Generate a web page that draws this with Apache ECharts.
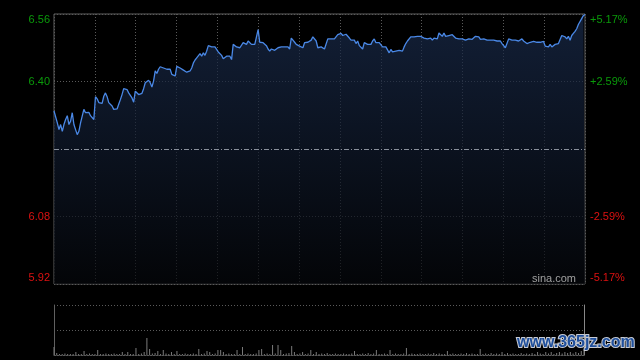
<!DOCTYPE html>
<html>
<head>
<meta charset="utf-8">
<script src="https://cdn.jsdelivr.net/npm/echarts@6/dist/echarts.min.js"></script>
<style>
html,body{margin:0;padding:0;background:#000;}
#c{width:640px;height:360px;}
</style>
</head>
<body>
<div id="c"></div>
<script>
// price samples across the session (evenly spaced in time)
var priceSeg1 = [6.330,6.326,6.302,6.286,6.298,6.282,6.298,6.310,6.319,6.298,
6.306,6.326,6.298,6.286,6.274,6.282,6.302,6.318,6.334,6.326,
6.322,6.327,6.319,6.322,6.310,6.364,6.359,6.350,6.353,6.348,
6.365,6.373,6.364,6.350,6.351,6.342,6.334,6.330,6.335,6.346,
6.357,6.369,6.383,6.383,6.381,6.373,6.375,6.361,6.351,6.377,
6.373,6.369,6.368,6.372,6.383,6.397,6.401,6.403,6.397,6.387,
6.401,6.425,6.419,6.429,6.435,6.438,6.432,6.430,6.429,6.425,
6.429,6.417,6.414,6.413,6.436,6.435,6.432,6.430,6.427,6.429,
6.422];
var priceSeg2 = [6.422,6.425,6.432,6.444,6.451,6.456,6.460,6.466,6.460,6.468,
6.462,6.472,6.485,6.487,6.482,6.482,6.482,6.482,6.470,6.466,
6.462,6.454,6.451,6.460,6.462,6.460,6.452,6.488,6.485,6.482,
6.480,6.480,6.482,6.492,6.490,6.488,6.496,6.492,6.488,6.492,
6.488,6.488,6.523,6.493,6.493,6.492,6.492,6.485,6.477,6.472,
6.477,6.477,6.474,6.477,6.480,6.482,6.482,6.482,6.482,6.482,
6.482,6.477,6.503,6.498,6.493,6.488,6.485,6.484,6.482,6.480,
6.492,6.492,6.493,6.496,6.498,6.506,6.507,6.496,6.480,6.480,
6.482];
var priceSeg3 = [6.480,6.477,6.480,6.501,6.501,6.501,6.501,6.501,6.503,6.511,
6.507,6.514,6.509,6.511,6.512,6.511,6.503,6.498,6.501,6.498,
6.490,6.496,6.485,6.485,6.477,6.492,6.490,6.488,6.490,6.488,
6.496,6.501,6.492,6.492,6.492,6.492,6.482,6.482,6.482,6.482,
6.468,6.476,6.470,6.472,6.472,6.472,6.474,6.477,6.472,6.482,
6.490,6.496,6.500,6.506,6.503,6.506,6.506,6.507,6.507,6.507,
6.503,6.503,6.501,6.501,6.500,6.503,6.498,6.503,6.501,6.501,
6.515,6.514,6.507,6.515,6.507,6.507,6.509,6.509,6.511,6.507,
6.503];
var priceSeg4 = [6.503,6.501,6.501,6.501,6.501,6.498,6.500,6.501,6.503,6.500,
6.503,6.507,6.503,6.506,6.500,6.498,6.501,6.500,6.498,6.500,
6.498,6.501,6.498,6.496,6.496,6.493,6.496,6.490,6.493,6.480,
6.484,6.501,6.498,6.498,6.500,6.498,6.500,6.496,6.500,6.501,
6.496,6.493,6.490,6.488,6.493,6.496,6.495,6.496,6.493,6.496,
6.493,6.492,6.495,6.484,6.482,6.482,6.488,6.482,6.484,6.488,
6.492,6.490,6.493,6.509,6.511,6.506,6.501,6.507,6.498,6.509,
6.514,6.519,6.525,6.535,6.539,6.549,6.556,6.559];

// volume samples (relative units), evenly spaced in time
var volumes = [16,4,2,2,3,2,2,2,6,2, 2,8,2,3,2,2,10,2,2,3,
2,2,3,2,2,6,2,6,2,2, 14,2,3,6,34,12,3,4,8,2,
10,3,2,6,2,8,2,2,3,2, 2,3,2,12,2,3,8,6,2,3,
10,10,6,2,3,2,2,10,2,16, 2,3,2,2,3,10,12,2,3,2,
20,3,20,10,2,3,4,18,6,2, 3,6,2,3,10,2,6,2,3,2,
4,2,2,3,2,2,3,2,2,3, 8,2,2,3,2,4,2,3,10,2,
2,3,2,10,2,3,2,2,3,14, 2,3,2,2,3,2,2,3,2,4,
2,3,2,2,8,2,3,2,2,3, 2,4,2,3,2,2,12,2,3,2,
4,2,3,2,6,2,4,2,3,2, 2,4,2,3,2,4,2,6,3,2,
6,3,6,2,4,6,3,6,4,6, 3,6,4,8,12];

var prevClose = 6.24;
var leftTicks = [5.92, 6.08, 6.24, 6.40, 6.56];
var leftLabels = ['5.92', '6.08', '', '6.40', '6.56'];
var rightLabels = ['-5.17%', '-2.59%', '', '+2.59%', '+5.17%'];
var sessionMinutes = 390;

var prices = priceSeg1.concat(priceSeg2, priceSeg3, priceSeg4);
var N = prices.length;
var priceData = prices.map(function (p, i) { return [i * sessionMinutes / (N - 1), p]; });
var M = volumes.length;
var volData = volumes.map(function (v, i) { return [i * sessionMinutes / (M - 1), v]; });

var GREEN = '#0a9a0a', RED = '#dd1111';
function idx(v) {
  for (var k = 0; k < leftTicks.length; k++) if (Math.abs(leftTicks[k] - v) < 1e-6) return k;
  return -1;
}
function labelFmt(arr) {
  return function (v) {
    var k = idx(v); if (k < 0 || arr[k] === '') return '';
    var s = k < 2 ? 'r' : 'g';
    if (k === 0) s += 'b';
    if (k === leftTicks.length - 1) s += 't';
    return '{' + s + '|' + arr[k] + '}';
  };
}
var rich = {
  g: { color: GREEN, fontSize: 11, fontFamily: 'Liberation Sans' },
  gt: { color: GREEN, fontSize: 11, fontFamily: 'Liberation Sans', padding: [12, 0, 0, 0] },
  r: { color: RED, fontSize: 11, fontFamily: 'Liberation Sans' },
  rb: { color: RED, fontSize: 11, fontFamily: 'Liberation Sans', padding: [0, 0, 12, 0] }
};

var chart = echarts.init(document.getElementById('c'), null, { renderer: 'canvas' });
chart.setOption({
  backgroundColor: '#000',
  animation: false,
  grid: [
    { left: 54, right: 55, top: 14, height: 270, show: true, borderColor: '#606060', borderWidth: 1, backgroundColor: 'transparent' },
    { left: 54, right: 56, top: 305, height: 50 }
  ],
  xAxis: [
    { type: 'value', gridIndex: 0, min: 0, max: sessionMinutes, interval: 30,
      axisLine: { show: false }, axisTick: { show: false }, axisLabel: { show: false },
      splitLine: { show: true, lineStyle: { color: '#5a5a5a', type: [1, 2], width: 1 } } },
    { type: 'value', gridIndex: 1, min: 0, max: sessionMinutes, interval: 30,
      axisLine: { show: true, onZero: false, lineStyle: { color: '#5a5a5a', type: [2, 1] } },
      axisTick: { show: false }, axisLabel: { show: false }, splitLine: { show: false } }
  ],
  yAxis: [
    { type: 'value', gridIndex: 0, min: 5.92, max: 6.56, interval: 0.16, position: 'left',
      axisLine: { show: false }, axisTick: { show: false },
      axisLabel: { formatter: labelFmt(leftLabels), rich: rich, margin: 4 },
      splitLine: { show: true, lineStyle: { color: ['#5a5a5a', '#5a5a5a', 'rgba(0,0,0,0)', '#5a5a5a', '#5a5a5a'], type: [1, 2] } } },
    { type: 'value', gridIndex: 0, min: 5.92, max: 6.56, interval: 0.16, position: 'right',
      axisLine: { show: false }, axisTick: { show: false },
      axisLabel: { formatter: labelFmt(rightLabels), rich: rich, margin: 5 },
      splitLine: { show: false } },
    { type: 'value', gridIndex: 1, min: 0, max: 100, interval: 50, position: 'left',
      axisLine: { show: true, lineStyle: { color: '#606060' } }, axisTick: { show: false }, axisLabel: { show: false },
      splitLine: { show: true, lineStyle: { color: '#5a5a5a', type: [1, 2] } } },
    { type: 'value', gridIndex: 1, min: 0, max: 100, interval: 50, position: 'right',
      axisLine: { show: true, lineStyle: { color: '#888' } }, axisTick: { show: false }, axisLabel: { show: false },
      splitLine: { show: false } }
  ],
  series: [
    { type: 'line', xAxisIndex: 0, yAxisIndex: 0, data: priceData, symbol: 'none', smooth: false,
      lineStyle: { color: '#4a88e6', width: 1.3 },
      areaStyle: { origin: 'start', color: new echarts.graphic.LinearGradient(0, 0, 0, 1, [
        { offset: 0, color: '#1a2c4d' }, { offset: 1, color: '#05070b' }]) },
      markLine: { silent: true, symbol: 'none', label: { show: false },
        lineStyle: { color: '#8a909c', type: [5, 2, 1, 2], width: 1 },
        data: [{ yAxis: prevClose }] },
      z: 3 },
    { type: 'bar', xAxisIndex: 1, yAxisIndex: 2, data: volData, barWidth: 1,
      itemStyle: { color: '#7a7a7a' } }
  ],
  graphic: [
    { type: 'text', left: 532, top: 273, style: { text: 'sina.com', fill: '#a0a0a0', font: '11px "Liberation Sans"' }, z: 10 },
    { type: 'text', left: 516, top: 334, style: { text: 'www.365jz.com', fill: '#1f4f9c', font: 'bold 16px "Liberation Sans"', stroke: '#c8ccd4', lineWidth: 2 }, z: 10 }
  ]
});
</script>
</body>
</html>
